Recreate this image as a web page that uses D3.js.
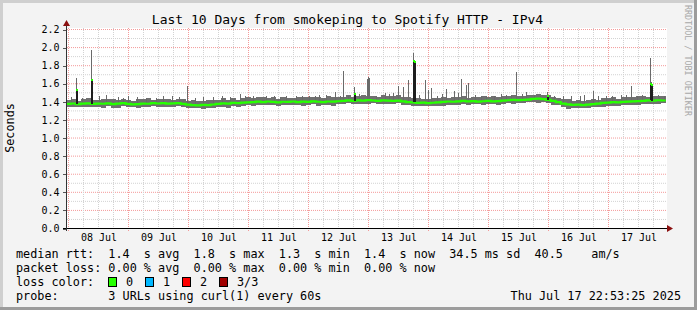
<!DOCTYPE html>
<html>
<head>
<meta charset="utf-8">
<script src="https://cdn.jsdelivr.net/npm/d3@7"></script>
<style>
  html, body { margin: 0; padding: 0; background: #f3f3f3; }
  svg text { font-family: "DejaVu Sans Mono", monospace; white-space: pre; }
</style>
</head>
<body>
<div id="chart"></div>
<script>
// smokeping 10 day graph, median rtt + smoke band, one bin = 2 hours

const width = 697;
const height = 310;

const binStart = "2025-07-07T22:53:25Z";
const binHours = 2;

// median rtt per 2h bin (seconds)
const medianRtt = [
  1.378, 1.382, 1.375, 1.380, 1.384, 1.377, 1.381, 1.379, 1.383, 1.376, 1.380, 1.385, 1.378,
  1.372, 1.376, 1.381, 1.379, 1.385, 1.382, 1.387, 1.380, 1.384, 1.386,
  1.378, 1.370, 1.364, 1.362, 1.367, 1.365, 1.371,
  1.378, 1.383, 1.380, 1.388, 1.386, 1.392, 1.395,
  1.398, 1.402, 1.397, 1.404, 1.400, 1.395, 1.401, 1.399, 1.404, 1.398,
  1.403, 1.400, 1.406, 1.401, 1.398, 1.404, 1.402, 1.407,
  1.412, 1.416, 1.410, 1.417, 1.414, 1.419, 1.415, 1.412, 1.417, 1.414, 1.410, 1.413,
  1.405, 1.398, 1.393, 1.389, 1.392, 1.387, 1.390, 1.394,
  1.400, 1.404, 1.401, 1.406, 1.410, 1.405, 1.408, 1.403, 1.407, 1.411, 1.406, 1.409,
  1.414, 1.418, 1.422, 1.419, 1.423, 1.425,
  1.432, 1.436, 1.430,
  1.422, 1.412, 1.398,
  1.380, 1.372, 1.366, 1.369, 1.364, 1.370, 1.375, 1.381,
  1.388, 1.392, 1.397, 1.394, 1.399, 1.402, 1.405, 1.409,
  1.412, 1.416, 1.413, 1.418, 1.415
];

// smoke spread above / below the median per bin (ms)
const smokeUp = [
  42, 55, 38, 47, 60, 44, 39, 52, 46, 58, 41, 49,
  45, 37, 53, 48, 62, 40, 51, 44, 57, 39, 46, 50,
  43, 58, 47, 41, 55, 49, 38, 60, 45, 52, 40, 48,
  54, 42, 47, 59, 44, 50, 39, 56, 46, 41, 53, 48,
  57, 45, 50, 43, 61, 47, 52, 40, 55, 49, 44, 58,
  46, 53, 41, 57, 48, 50, 62, 44, 51, 47, 55, 42,
  49, 58, 45, 52, 40, 56, 47, 60, 43, 51, 48, 54,
  41, 57, 46, 50, 44, 59, 48, 42, 55, 47, 52, 45,
  58, 43, 50, 47, 56, 41, 53, 46, 49, 60, 44, 51,
  47, 55, 42, 58, 48, 45, 53, 50, 43, 57, 46, 52
];
const smokeDown = [
  34, 41, 30, 38, 45, 33, 36, 42, 31, 39, 44, 35,
  37, 32, 43, 36, 40, 30, 38, 45, 34, 41, 33, 39,
  42, 35, 31, 44, 37, 40, 33, 38, 46, 32, 39, 36,
  31, 43, 37, 34, 41, 38, 45, 33, 36, 40, 32, 44,
  39, 35, 42, 31, 38, 44, 36, 40, 33, 37, 41, 34,
  43, 32, 38, 45, 35, 39, 31, 42, 37, 34, 40, 36,
  33, 41, 36, 44, 38, 32, 40, 35, 43, 37, 31, 39,
  40, 34, 42, 37, 33, 45, 36, 41, 32, 38, 44, 35,
  37, 43, 31, 39, 46, 34, 40, 36, 42, 33, 38, 41,
  35, 40, 44, 32, 38, 36, 43, 34, 39, 41, 37, 33
];

// single spikes: time, highest ping, median when it rose too (null = none)
const spikeTimes = [
  "2025-07-08T03:05Z", "2025-07-08T09:05Z", "2025-07-08T15:05Z", "2025-07-09T00:00Z",
  "2025-07-09T07:20Z", "2025-07-09T14:00Z", "2025-07-09T23:40Z", "2025-07-10T10:00Z",
  "2025-07-10T20:40Z", "2025-07-10T22:40Z", "2025-07-11T07:00Z", "2025-07-11T15:00Z",
  "2025-07-12T00:30Z", "2025-07-12T04:30Z", "2025-07-12T10:40Z", "2025-07-12T12:40Z",
  "2025-07-12T14:00Z", "2025-07-12T18:17Z", "2025-07-12T23:30Z", "2025-07-13T00:00Z",
  "2025-07-13T00:30Z", "2025-07-13T06:40Z", "2025-07-13T10:00Z", "2025-07-13T12:00Z",
  "2025-07-13T14:00Z", "2025-07-13T16:05Z", "2025-07-13T18:10Z", "2025-07-13T18:35Z",
  "2025-07-13T22:40Z", "2025-07-14T00:00Z", "2025-07-14T01:20Z", "2025-07-14T07:20Z",
  "2025-07-14T10:25Z", "2025-07-14T13:05Z", "2025-07-14T15:20Z", "2025-07-14T16:00Z",
  "2025-07-14T23:20Z", "2025-07-15T05:00Z", "2025-07-15T09:05Z", "2025-07-15T11:10Z",
  "2025-07-15T15:20Z", "2025-07-15T23:45Z", "2025-07-16T06:00Z", "2025-07-16T17:55Z",
  "2025-07-16T23:20Z", "2025-07-17T05:00Z", "2025-07-17T09:15Z", "2025-07-17T16:40Z",
  "2025-07-17T17:05Z", "2025-07-17T22:15Z",
  "2025-07-08T01:10Z", "2025-07-08T05:40Z", "2025-07-08T12:20Z", "2025-07-08T19:50Z",
  "2025-07-08T22:10Z", "2025-07-09T03:30Z", "2025-07-09T11:15Z", "2025-07-09T17:40Z",
  "2025-07-09T20:20Z", "2025-07-10T02:40Z", "2025-07-10T06:10Z", "2025-07-10T13:30Z",
  "2025-07-10T16:50Z", "2025-07-11T02:10Z", "2025-07-11T10:30Z", "2025-07-11T12:45Z",
  "2025-07-11T19:10Z", "2025-07-11T21:40Z", "2025-07-12T02:50Z", "2025-07-12T07:20Z",
  "2025-07-12T16:10Z", "2025-07-12T20:30Z", "2025-07-13T03:10Z", "2025-07-13T08:20Z",
  "2025-07-13T20:30Z", "2025-07-14T03:40Z", "2025-07-14T05:30Z", "2025-07-14T11:50Z",
  "2025-07-14T18:40Z", "2025-07-14T21:10Z", "2025-07-15T02:20Z", "2025-07-15T07:10Z",
  "2025-07-15T13:40Z", "2025-07-15T18:30Z", "2025-07-15T20:50Z", "2025-07-16T02:30Z",
  "2025-07-16T09:20Z", "2025-07-16T12:40Z", "2025-07-16T14:30Z", "2025-07-16T20:10Z",
  "2025-07-17T01:40Z", "2025-07-17T07:00Z", "2025-07-17T11:30Z", "2025-07-17T13:40Z",
  "2025-07-17T19:50Z", "2025-07-17T20:30Z"
];
const spikeTops = [
  1.66, 1.97, 1.48, 1.46,
  1.44, 1.46, 1.57, 1.45,
  1.49, 1.46, 1.47, 1.46,
  1.47, 1.48, 1.51, 1.47,
  1.74, 1.56, 1.65, 1.68,
  1.66, 1.50, 1.50, 1.58,
  1.56, 1.64, 1.94, 1.86,
  1.64, 1.53, 1.55, 1.54,
  1.52, 1.65, 1.59, 1.61,
  1.46, 1.49, 1.48, 1.73,
  1.51, 1.51, 1.47, 1.52,
  1.47, 1.48, 1.57, 1.88,
  1.62, 1.47,
  1.45, 1.44, 1.46, 1.45,
  1.44, 1.45, 1.44, 1.46,
  1.45, 1.44, 1.45, 1.46,
  1.45, 1.46, 1.47, 1.45,
  1.46, 1.47, 1.46, 1.48,
  1.47, 1.49, 1.47, 1.49,
  1.48, 1.47, 1.49, 1.50,
  1.48, 1.47, 1.47, 1.48,
  1.49, 1.48, 1.47, 1.47,
  1.46, 1.47, 1.48, 1.46,
  1.47, 1.48, 1.47, 1.48,
  1.48, 1.47
];
const spikeMedians = [
  1.53, 1.64, null, null,
  null, null, null, null,
  null, null, null, null,
  null, null, null, null,
  null, 1.49, null, null,
  null, null, null, null,
  null, null, 1.85, 1.84,
  null, null, null, null,
  null, null, null, null,
  null, null, null, null,
  null, 1.46, null, null,
  null, null, null, 1.60,
  1.59, null
];

const yTicks = [0, 0.2, 0.4, 0.6, 0.8, 1.0, 1.2, 1.4, 1.6, 1.8, 2.0, 2.2];
const dayLabels = ["08 Jul", "09 Jul", "10 Jul", "11 Jul", "12 Jul", "13 Jul", "14 Jul", "15 Jul", "16 Jul", "17 Jul"];

const rttValues = ["1.4", "1.8", "1.3", "1.4"];
const lossValues = ["0.00", "0.00", "0.00", "0.00"];
const statKinds = ["avg", "max", "min", "now"];
const rttSd = "34.5";
const rttAms = "40.5";
const lossLabels = ["0", "1", "2", "3/3"];
const lossColors = ["#26ff00", "#00b8ff", "#ff0000", "#a10000"];
const probeText = "3 URLs using curl(1) every 60s";
const stampText = "Thu Jul 17 22:53:25 2025";

const plot = { left: 67, right: 667, top: 28, bottom: 228 };

const svg = d3.select('#chart')
  .append('svg')
  .attr('width', width)
  .attr('height', height);

// frame, rrdtool style shading
svg.append('rect').attr('width', width).attr('height', height).attr('fill', '#f3f3f3');
svg.append('path').attr('d', `M0,0H${width}V3H3V${height}H0Z`).attr('fill', '#cfcfcf');
svg.append('path').attr('d', `M${width},${height}H0V${height - 3}H${width - 3}V0H${width}Z`).attr('fill', '#9c9c9c');

svg.append('rect')
  .attr('x', plot.left).attr('y', plot.top)
  .attr('width', plot.right - plot.left).attr('height', plot.bottom - plot.top)
  .attr('fill', '#ffffff');

const x = d3.scaleUtc()
  .domain([new Date("2025-07-08T00:00Z"), new Date("2025-07-18T00:00Z")])
  .range([68.5, 668.5]);

const y = d3.scaleLinear()
  .domain([0, 2.2])
  .range([228.5, 29.5]);

svg.append('clipPath').attr('id', 'plotClip')
  .append('rect')
  .attr('x', plot.left).attr('y', plot.top)
  .attr('width', plot.right - plot.left).attr('height', plot.bottom - plot.top);

const grid = svg.append('g');

// horizontal grid: 0.1 minor, 0.2 major
d3.range(1, 23).forEach(i => {
  const major = i % 2 === 0;
  const yy = y(i / 10);
  grid.append('line')
    .attr('x1', plot.left).attr('x2', plot.right)
    .attr('y1', yy).attr('y2', yy)
    .attr('stroke', major ? '#f49a9a' : '#d2d2d2')
    .attr('stroke-dasharray', '1,1');
});

// vertical grid: 6h minor, day major
d3.utcHour.every(6).range(new Date("2025-07-08T00:00Z"), new Date("2025-07-18T00:00Z")).forEach(t => {
  const major = t.getUTCHours() === 0;
  const xx = x(t);
  if (xx > plot.right) return;
  grid.append('line')
    .attr('x1', xx).attr('x2', xx)
    .attr('y1', plot.top).attr('y2', major ? plot.bottom + 3 : plot.bottom)
    .attr('stroke', major ? '#f49a9a' : '#d2d2d2')
    .attr('stroke-dasharray', '1,1');
});

const t0 = new Date(binStart);
const bins = medianRtt.map((m, i) => ({
  t: d3.utcHour.offset(t0, i * binHours),
  t1: d3.utcHour.offset(t0, (i + 1) * binHours),
  med: m,
  hi: m + smokeUp[i] / 1000,
  lo: m - smokeDown[i] / 1000
}));

const data = svg.append('g').attr('clip-path', 'url(#plotClip)');

data.selectAll('rect.smoke')
  .data(bins)
  .enter()
  .append('rect')
  .attr('class', 'smoke')
  .attr('x', d => Math.round(x(d.t)))
  .attr('width', d => Math.round(x(d.t1)) - Math.round(x(d.t)))
  .attr('y', d => Math.round(y(d.hi)))
  .attr('height', d => Math.max(1, Math.round(y(d.lo)) - Math.round(y(d.hi))))
  .attr('fill', '#707070')
  .attr('shape-rendering', 'crispEdges');

const binAt = t => bins[Math.max(0, Math.min(bins.length - 1, Math.floor((t - t0) / (binHours * 3600e3))))];

const spikes = spikeTimes.map((s, i) => ({ t: new Date(s), top: spikeTops[i], med: spikeMedians[i] ?? null }));

data.selectAll('line.spike')
  .data(spikes)
  .enter()
  .append('line')
  .attr('class', 'spike')
  .attr('x1', d => Math.floor(x(d.t)) + 0.5)
  .attr('x2', d => Math.floor(x(d.t)) + 0.5)
  .attr('y1', d => y(binAt(d.t).med))
  .attr('y2', d => Math.round(y(d.top)))
  .attr('stroke', '#6a6a6a')
  .attr('stroke-width', 1)
  .attr('shape-rendering', 'crispEdges');

const medLine = d3.line()
  .x(d => x(d.t))
  .y(d => y(d.med))
  .curve(d3.curveStepAfter);

data.append('path')
  .datum(bins.concat([{ t: bins[bins.length - 1].t1, med: bins[bins.length - 1].med }]))
  .attr('d', medLine)
  .attr('fill', 'none')
  .attr('stroke', lossColors[0])
  .attr('stroke-width', 2.2);

const risen = spikes.filter(d => d.med !== null);

data.selectAll('rect.riseBar')
  .data(risen)
  .enter()
  .append('rect')
  .attr('class', 'riseBar')
  .attr('x', d => Math.floor(x(d.t)))
  .attr('width', 2)
  .attr('y', d => Math.round(y(d.med)))
  .attr('height', d => Math.round(y(binAt(d.t).med)) - Math.round(y(d.med)))
  .attr('fill', '#1e1e1e')
  .attr('shape-rendering', 'crispEdges');

data.selectAll('rect.riseMed')
  .data(risen)
  .enter()
  .append('rect')
  .attr('class', 'riseMed')
  .attr('x', d => Math.floor(x(d.t)))
  .attr('width', 2)
  .attr('y', d => Math.round(y(d.med)) - 1)
  .attr('height', 2)
  .attr('fill', lossColors[0])
  .attr('shape-rendering', 'crispEdges');

// axes
const yAxis = d3.axisLeft(y)
  .tickValues(yTicks)
  .tickFormat(d3.format('.1f'))
  .tickSize(4)
  .tickPadding(3);

const yg = svg.append('g')
  .attr('transform', 'translate(66.5,0)')
  .call(yAxis);
yg.select('.domain').remove();
yg.selectAll('.tick line').attr('stroke', '#555').attr('shape-rendering', 'crispEdges');
yg.selectAll('.tick text')
  .attr('fill', '#000')
  .style('font-size', '10px')
  .style('font-family', '"DejaVu Sans Mono", monospace');

const xAxis = d3.axisBottom(x)
  .tickValues(dayLabels.map((_, i) => d3.utcHour.offset(new Date("2025-07-08T12:00Z"), i * 24)))
  .tickFormat((d, i) => dayLabels[i])
  .tickSize(0)
  .tickPadding(6);

const xg = svg.append('g')
  .attr('transform', 'translate(0,228)')
  .call(xAxis);
xg.select('.domain').remove();
xg.selectAll('.tick text')
  .attr('fill', '#000')
  .style('font-size', '10px')
  .style('font-family', '"DejaVu Sans Mono", monospace');

svg.append('line')
  .attr('x1', 63).attr('x2', 669)
  .attr('y1', 228.5).attr('y2', 228.5)
  .attr('stroke', '#000');
svg.append('line')
  .attr('x1', 66.5).attr('x2', 66.5)
  .attr('y1', 24).attr('y2', 231)
  .attr('stroke', '#333');

svg.append('path')
  .attr('d', 'M63,26L70,26L66.5,20Z')
  .attr('fill', '#8b1010');
svg.append('path')
  .attr('d', 'M667,225L667,232L673,228.5Z')
  .attr('fill', '#8b1010');

// titles
svg.append('text')
  .attr('x', 347.5).attr('y', 23.5)
  .attr('text-anchor', 'middle')
  .style('font-size', '13px')
  .attr('fill', '#000')
  .text('Last 10 Days from smokeping to Spotify HTTP - IPv4');

svg.append('text')
  .attr('transform', 'translate(14,128) rotate(-90)')
  .attr('text-anchor', 'middle')
  .style('font-size', '11.8px')
  .attr('fill', '#000')
  .text('Seconds');

svg.append('text')
  .attr('transform', 'translate(685,5) rotate(90)')
  .style('font-size', '8.4px')
  .attr('fill', '#a8a8a8')
  .text('RRDTOOL / TOBI OETIKER');

// legend
const legend = svg.append('g').style('font-size', '11.8px').attr('fill', '#000');

const rttLine = 'median rtt:  ' +
  rttValues.map((v, i) => `${v}  s ${statKinds[i]}  `).join('') +
  `${rttSd} ms sd  ${rttAms}    am/s`;
const lossLine = 'packet loss: ' +
  lossValues.map((v, i) => `${v} % ${statKinds[i]}`).join('  ');

legend.append('text').attr('x', 16).attr('y', 258).text(rttLine);
legend.append('text').attr('x', 16).attr('y', 272).text(lossLine);
legend.append('text').attr('x', 16).attr('y', 286).text('loss color:');
legend.append('text').attr('x', 16).attr('y', 300).text('probe:       ' + probeText);
legend.append('text').attr('x', 681).attr('y', 300).attr('text-anchor', 'end').text(stampText);

const boxes = legend.selectAll('g.lc')
  .data(lossLabels)
  .enter()
  .append('g')
  .attr('class', 'lc')
  .attr('transform', (d, i) => `translate(${108 + i * 37},0)`);

boxes.append('rect')
  .attr('x', 0.5).attr('y', 277.5)
  .attr('width', 8).attr('height', 9)
  .attr('fill', (d, i) => lossColors[i])
  .attr('stroke', '#000')
  .attr('stroke-width', 1);

boxes.append('text')
  .attr('x', 18).attr('y', 286)
  .text(d => d);
</script>
</body>
</html>
